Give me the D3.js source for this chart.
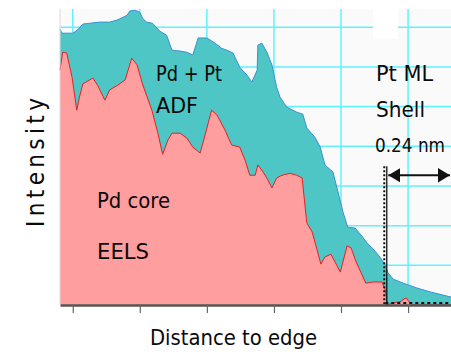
<!DOCTYPE html>
<html>
<head>
<meta charset="utf-8">
<script src="https://cdn.jsdelivr.net/npm/d3@7"></script>
<style>
  body { margin: 0; background: #fff; }
  svg text { font-family: "DejaVu Sans Condensed", "DejaVu Sans", sans-serif; font-stretch: condensed; fill: #0a0a0a; }
</style>
</head>
<body>
<svg id="chart" width="451" height="354"></svg>
<script>
// ADF signal (Pd + Pt), [distance, intensity]
const adf = [
  [-0.19, 6.95], [-0.16, 6.85], [0, 6.85], [0.07, 6.93], [0.15, 7.08], [0.25, 7.10],
  [0.40, 7.13], [0.55, 7.13], [0.66, 7.18], [0.75, 7.25], [0.81, 7.30], [0.85, 7.41],
  [0.93, 7.43], [1.00, 7.38], [1.04, 7.23], [1.10, 7.13], [1.19, 7.10], [1.30, 6.90],
  [1.40, 6.80], [1.48, 6.42], [1.60, 6.40], [1.70, 6.37], [1.79, 6.30], [1.87, 6.73],
  [2.00, 6.73], [2.12, 6.60], [2.22, 6.47], [2.30, 6.42], [2.39, 6.35], [2.49, 5.99],
  [2.60, 5.79], [2.67, 5.62], [2.75, 5.92], [2.76, 6.55], [2.82, 6.60], [2.90, 6.35],
  [2.97, 6.05], [3.04, 5.49], [3.09, 5.24], [3.19, 4.99], [3.34, 4.86], [3.43, 4.81],
  [3.49, 4.46], [3.61, 4.23], [3.69, 3.98], [3.76, 3.53], [3.88, 3.35], [3.94, 2.95],
  [4.03, 2.34], [4.10, 1.96], [4.21, 1.94], [4.31, 1.74], [4.39, 1.56], [4.48, 1.41],
  [4.58, 1.21], [4.66, 1.01], [4.70, 0.81], [4.78, 0.65], [4.93, 0.55], [5.13, 0.43],
  [5.33, 0.33], [5.52, 0.25], [5.64, 0.20]
];

// EELS signal (Pd core)
const eels = [
  [-0.19, 5.92], [-0.15, 6.37], [-0.09, 6.35], [-0.01, 5.74], [0.06, 4.91], [0.10, 5.24],
  [0.15, 5.57], [0.30, 5.72], [0.37, 5.54], [0.48, 5.16], [0.55, 5.42], [0.67, 5.54],
  [0.78, 5.67], [0.88, 6.22], [0.96, 6.05], [1.04, 5.57], [1.18, 4.91], [1.27, 4.33],
  [1.34, 3.80], [1.42, 4.16], [1.48, 4.33], [1.60, 4.33], [1.70, 4.21], [1.79, 3.98],
  [1.90, 3.83], [2.00, 4.46], [2.07, 4.91], [2.15, 4.79], [2.27, 4.41], [2.37, 4.03],
  [2.49, 3.98], [2.57, 3.65], [2.64, 3.27], [2.72, 3.27], [2.76, 3.53], [2.84, 3.35],
  [2.91, 3.15], [2.97, 2.95], [3.04, 3.20], [3.12, 3.27], [3.24, 3.32], [3.34, 3.27],
  [3.42, 3.20], [3.49, 2.07], [3.57, 1.84], [3.64, 1.41], [3.70, 1.03], [3.76, 1.21],
  [3.85, 1.28], [3.99, 0.83], [4.09, 1.49], [4.15, 1.44], [4.22, 1.11], [4.30, 0.81],
  [4.37, 0.55], [4.48, 0.58], [4.61, 0.58], [4.66, 0.38], [4.69, 0], [4.76, 0.05],
  [4.88, 0.08], [4.97, 0.18], [5.03, 0.05], [5.07, 0], [5.64, 0]
];

const xTicks = [0, 1, 2, 3, 4, 5];
const yGrid = [1, 2, 3, 4, 5, 6, 7];
const shellEdge = 4.66;   // start of the Pt monolayer shell
const arrowLevel = 3.27;
const markerTop = 3.5;

const margin = { top: 9, right: 0, bottom: 49, left: 60 };
const width = 451, height = 354;
const svg = d3.select('#chart');

const x = d3.scaleLinear().domain([-0.19, 5.64]).range([margin.left, width - margin.right]);
const y = d3.scaleLinear().domain([0, 7.46]).range([height - margin.bottom, margin.top]);

// plot background
svg.append('rect')
  .attr('x', margin.left).attr('y', margin.top)
  .attr('width', width - margin.left - margin.right)
  .attr('height', height - margin.top - margin.bottom)
  .attr('fill', '#fafafa');

// grid
const gridColor = '#5ff2ff';
const grid = svg.append('g');
grid.selectAll('.vgrid').data(xTicks).enter().append('line')
  .attr('class', 'vgrid')
  .attr('x1', d => x(d)).attr('x2', d => x(d))
  .attr('y1', margin.top).attr('y2', y(0))
  .style('stroke', gridColor).style('stroke-width', 1.5);
grid.selectAll('.hgrid').data(yGrid).enter().append('line')
  .attr('class', 'hgrid')
  .attr('x1', margin.left).attr('x2', width)
  .attr('y1', d => y(d)).attr('y2', d => y(d))
  .style('stroke', gridColor).style('stroke-width', 1.5);

const area = d3.area().x(d => x(d[0])).y0(y(0)).y1(d => y(d[1]));
const line = d3.line().x(d => x(d[0])).y(d => y(d[1]));

svg.append('path').datum(adf).attr('d', area).attr('fill', '#4ec6c6');
svg.append('path').datum(adf).attr('d', line)
  .attr('fill', 'none').attr('stroke', '#3c8fd6').attr('stroke-width', 1);

svg.append('path').datum(eels).attr('d', area).attr('fill', '#ff9e9e');
svg.append('path').datum(eels).attr('d', line)
  .attr('fill', 'none').attr('stroke', '#e32222').attr('stroke-width', 1);

// shell boundary markers
svg.append('line')
  .attr('x1', x(shellEdge) - 1).attr('x2', x(shellEdge) - 1)
  .attr('y1', y(markerTop)).attr('y2', y(0))
  .attr('stroke', '#111').attr('stroke-width', 2).attr('stroke-dasharray', '2,2');
svg.append('line')
  .attr('x1', x(shellEdge) + 1.5).attr('x2', x(shellEdge) + 1.5)
  .attr('y1', y(markerTop)).attr('y2', y(0))
  .attr('stroke', '#111').attr('stroke-width', 1.3);
svg.append('line')
  .attr('x1', x(shellEdge)).attr('x2', width)
  .attr('y1', y(0) - 2).attr('y2', y(0) - 2)
  .attr('stroke', '#111').attr('stroke-width', 2).attr('stroke-dasharray', '3,3');

// double arrow
const defs = svg.append('defs');
defs.append('marker').attr('id', 'head')
  .attr('viewBox', '0 0 10 12').attr('refX', 10).attr('refY', 6)
  .attr('markerWidth', 6).attr('markerHeight', 7.5).attr('markerUnits', 'strokeWidth')
  .attr('orient', 'auto-start-reverse')
  .append('path').attr('d', 'M0,0L10,6L0,12Z').attr('fill', '#111');
svg.append('line')
  .attr('x1', x(shellEdge) + 3).attr('x2', width - 1)
  .attr('y1', y(arrowLevel)).attr('y2', y(arrowLevel))
  .attr('stroke', '#111').attr('stroke-width', 2)
  .attr('marker-start', 'url(#head)').attr('marker-end', 'url(#head)');

// bottom axis
const axis = svg.append('g')
  .attr('transform', `translate(0,${y(0)})`)
  .call(d3.axisBottom(x).tickValues(xTicks).tickFormat('').tickSize(8).tickSizeOuter(0));
axis.select('.domain').attr('stroke', '#555').attr('stroke-width', 2.5);
axis.selectAll('.tick line').attr('stroke', '#666').attr('stroke-width', 1.2);

// left border
svg.append('line')
  .attr('x1', margin.left).attr('x2', margin.left)
  .attr('y1', margin.top).attr('y2', y(0))
  .attr('stroke', '#e6d6d6').attr('stroke-width', 1);

// labels, with widths
const label = (t, px, py, len, fs = 22) => svg.append('text')
  .attr('x', px).attr('y', py)
  .attr('textLength', len).attr('lengthAdjust', 'spacingAndGlyphs')
  .style('font-size', fs + 'px').text(t);

label('Pd + Pt', 156, 81, 66);
label('ADF', 156, 113, 42);
label('Pd core', 97, 208, 73);
label('EELS', 97, 259, 52);

svg.append('rect').attr('x', 373).attr('y', margin.top).attr('width', 25).attr('height', 30).attr('fill', '#fff');
label('Pt ML', 376, 81, 57);
label('Shell', 376, 117, 49);
label('0.24 nm', 375, 152, 70, 19.5);

label('Distance to edge', 150, 345, 167);
svg.append('text')
  .attr('transform', 'translate(44,227) rotate(-90)')
  .attr('textLength', 129).attr('lengthAdjust', 'spacing')
  .style('font-size', '24px')
  .text('Intensity');
</script>
</body>
</html>
